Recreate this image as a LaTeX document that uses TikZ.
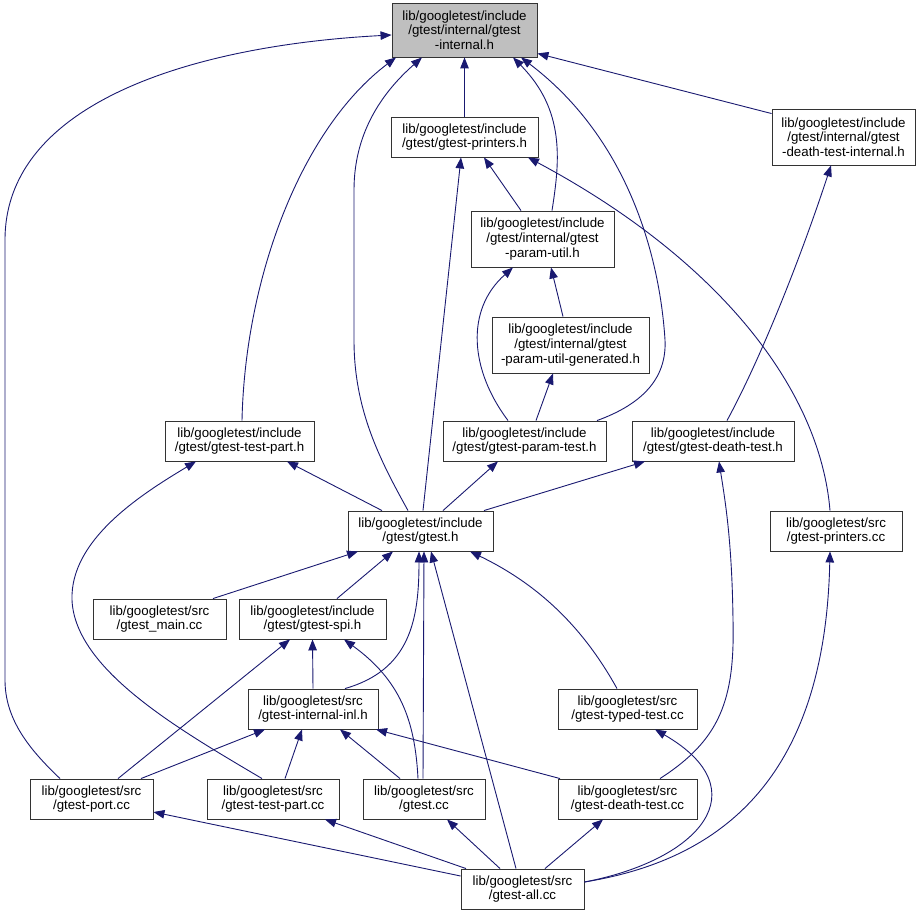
\documentclass[tikz,border=0pt]{standalone}
\usepackage{fontspec}
\setmainfont{Liberation Sans}
\usetikzlibrary{arrows.meta}

\begin{document}
\begin{tikzpicture}[x=1pt, y=-1pt,
  file/.style={draw=bordo, line width=0.9pt, align=center, inner sep=0pt,
    font=\fontsize{13.3}{14.7}\selectfont, minimum height=40pt},
  alto/.style={minimum height=56pt},
  dep/.style={draw=blu, line width=0.9pt, -{Triangle[length=11pt,width=8.5pt]}}]

% Colori
\definecolor{blu}{HTML}{191970}
\definecolor{grigio}{HTML}{BFBFBF}
\definecolor{bordo}{HTML}{333333}

\useasboundingbox (0,0) rectangle (923,915);

% Header principale
\node[file, fill=grigio, minimum width=145pt, minimum height=54pt] (internal) at (464.5,30)
  {lib/googletest/include\\/gtest/internal/gtest\\-internal.h};

% Header inclusi
\node[file, minimum width=147pt] (printers) at (464.5,137) {lib/googletest/include\\/gtest/gtest-printers.h};
\node[file, alto, minimum width=143pt] (dti) at (843.5,137) {lib/googletest/include\\/gtest/internal/gtest\\-death-test-internal.h};
\node[file, alto, minimum width=143pt] (putil) at (542.5,239) {lib/googletest/include\\/gtest/internal/gtest\\-param-util.h};
\node[file, alto, minimum width=157pt] (pgen) at (570.5,345) {lib/googletest/include\\/gtest/internal/gtest\\-param-util-generated.h};
\node[file, minimum width=149pt] (tparth) at (239.5,441) {lib/googletest/include\\/gtest/gtest-test-part.h};
\node[file, minimum width=163pt] (ptest) at (524.5,441) {lib/googletest/include\\/gtest/gtest-param-test.h};
\node[file, minimum width=162pt] (dtesth) at (713,441) {lib/googletest/include\\/gtest/gtest-death-test.h};
\node[file, minimum width=145pt] (gtesth) at (420.5,531) {lib/googletest/include\\/gtest/gtest.h};
\node[file, minimum width=132pt] (printcc) at (836,531) {lib/googletest/src\\/gtest-printers.cc};
\node[file, minimum width=133pt] (main) at (159.5,619) {lib/googletest/src\\/gtest\_main.cc};
\node[file, minimum width=147pt] (spi) at (312.5,619) {lib/googletest/include\\/gtest/gtest-spi.h};
\node[file, minimum width=130pt] (inl) at (313,709) {lib/googletest/src\\/gtest-internal-inl.h};
\node[file, minimum width=139pt] (typed) at (627.5,709) {lib/googletest/src\\/gtest-typed-test.cc};

% Sorgenti
\node[file, minimum width=123pt] (port) at (91.5,799) {lib/googletest/src\\/gtest-port.cc};
\node[file, minimum width=132pt] (tpartcc) at (273,799) {lib/googletest/src\\/gtest-test-part.cc};
\node[file, minimum width=122pt] (gtestcc) at (424,799) {lib/googletest/src\\/gtest.cc};
\node[file, minimum width=139pt] (dtestcc) at (627.5,799) {lib/googletest/src\\/gtest-death-test.cc};
\node[file, minimum width=123pt] (all) at (522.5,889) {lib/googletest/src\\/gtest-all.cc};

% Verso gtest-internal.h
\draw[dep] (printers.north) -- (internal.south);
\draw[dep] ([yshift=-5pt]dti.north west) -- ([yshift=4pt]internal.south east);
\draw[dep] ([xshift=9.5pt]putil.north) .. controls (560,160) and (565,110) .. ([xshift=48.5pt]internal.south);
\draw[dep] ([xshift=72.5pt]ptest.north) .. controls (640,405) and (667,380) .. (665,340)
  .. controls (660,260) and (630,140) .. ([xshift=56.5pt]internal.south);
\draw[dep] ([xshift=-12.5pt]gtesth.north) .. controls (380,460) and (354,410) .. (354,340) -- (354,190)
  .. controls (354,130) and (385,90) .. ([xshift=-42.5pt]internal.south);
\draw[dep] ([xshift=2.5pt]tparth.north) .. controls (245,280) and (300,130) .. ([xshift=-68.5pt]internal.south);
\draw[dep] ([xshift=-31.5pt]port.north) .. controls (30,750) and (5,720) .. (5,680) -- (5,240)
  .. controls (5,100) and (200,45) .. ([yshift=-5pt]internal.west);

% Verso gtest-printers.h
\draw[dep] ([xshift=-21.5pt]putil.north) -- ([xshift=19.5pt]printers.south);
\draw[dep] ([xshift=2.5pt]gtesth.north) -- ([xshift=-3.5pt]printers.south);
\draw[dep] ([xshift=-6pt]printcc.north) .. controls (820,390) and (720,260) .. ([xshift=63.5pt]printers.south);

% Param util
\draw[dep] ([xshift=-7.5pt]pgen.north) -- ([xshift=8.5pt]putil.south);
\draw[dep] ([xshift=-16.5pt]ptest.north) .. controls (470,370) and (465,310) .. ([xshift=-29.5pt]putil.south);
\draw[dep] ([xshift=11.5pt]ptest.north) -- ([xshift=-17.5pt]pgen.south);

% Death test
\draw[dep] ([xshift=14pt]dtesth.north) .. controls (760,360) and (800,260) .. ([xshift=-12.5pt]dti.south);
\draw[dep] ([xshift=32.5pt]dtestcc.north) .. controls (720,740) and (735,700) .. (733,620)
  .. controls (732,540) and (725,500) .. ([xshift=6pt]dtesth.south);

% Verso gtest-test-part.h
\draw[dep] ([xshift=-38.5pt]gtesth.north) -- ([xshift=47.5pt]tparth.south);
\draw[dep] ([xshift=-11pt]tpartcc.north) .. controls (180,730) and (75,670) .. (72,600)
  .. controls (70,540) and (140,495) .. ([xshift=-43.5pt]tparth.south);

% Da gtest.h
\draw[dep] ([xshift=22.5pt]gtesth.north) -- ([xshift=-26.5pt]ptest.south);
\draw[dep] ([xshift=63.5pt]gtesth.north) -- ([xshift=-68pt]dtesth.south);

% Verso gtest.h
\draw[dep] ([xshift=53.5pt]main.north) -- ([xshift=-62.5pt]gtesth.south);
\draw[dep] ([xshift=24.5pt]spi.north) -- ([xshift=-27.5pt]gtesth.south);
\draw[dep] ([xshift=32pt]inl.north) .. controls (410,670) and (419,620) .. ([xshift=-1.5pt]gtesth.south);
\draw[dep] ([xshift=-1pt]gtestcc.north) -- ([xshift=3.5pt]gtesth.south);
\draw[dep] ([xshift=-6.5pt]all.north) -- ([xshift=10.5pt]gtesth.south);
\draw[dep] ([xshift=-10.5pt]typed.north) .. controls (590,640) and (550,590) .. ([xshift=49.5pt]gtesth.south);

% Verso gtest-spi.h e gtest-internal-inl.h
\draw[dep] (inl.north) -- (spi.south);
\draw[dep] ([xshift=26.5pt]port.north) -- ([xshift=-22.5pt]spi.south);
\draw[dep] ([xshift=-6pt]gtestcc.north) .. controls (415,720) and (400,680) .. ([xshift=31.5pt]spi.south);
\draw[dep] ([xshift=49.5pt]port.north) -- ([xshift=-48pt]inl.south);
\draw[dep] ([xshift=12pt]tpartcc.north) -- ([xshift=-11pt]inl.south);
\draw[dep] ([xshift=-24pt]gtestcc.north) -- ([xshift=27pt]inl.south);
\draw[dep] ([xshift=-67.5pt]dtestcc.north) -- ([xshift=63pt]inl.south);

% Da gtest-all.cc
\draw[dep] ([yshift=7pt]all.east) .. controls (720,860) and (825,780) .. ([xshift=-6pt]printcc.south);
\draw[dep] ([yshift=7pt]all.east) .. controls (700,860) and (760,790) .. ([xshift=27.5pt]typed.south);
\draw[dep] ([yshift=13pt]all.west) -- ([yshift=-13pt]port.east);
\draw[dep] ([xshift=-56.5pt]all.north) -- ([xshift=52pt]tpartcc.south);
\draw[dep] ([xshift=-22.5pt]all.north) -- ([xshift=23pt]gtestcc.south);
\draw[dep] ([xshift=22.5pt]all.north) -- ([xshift=-24.5pt]dtestcc.south);

\end{tikzpicture}
\end{document}
